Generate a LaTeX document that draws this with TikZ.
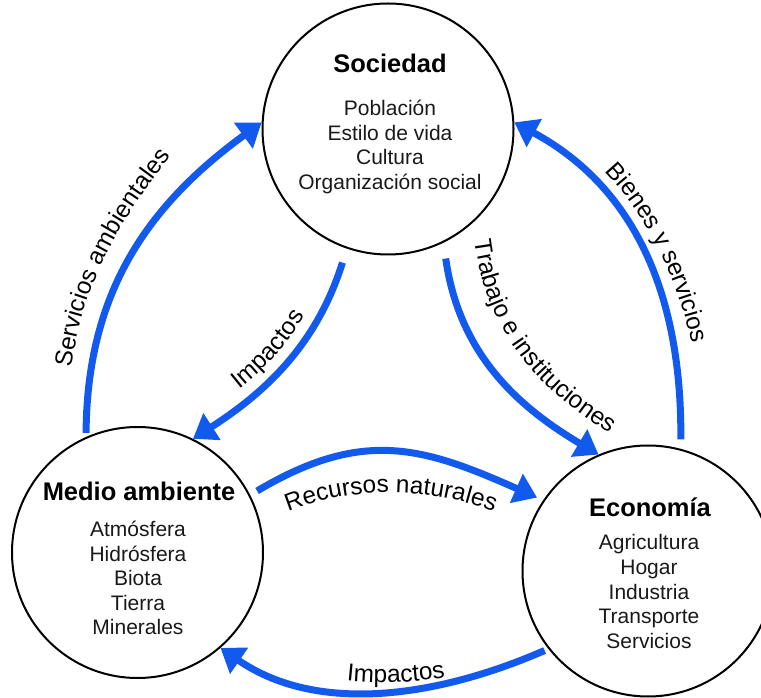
\documentclass[tikz,border=0pt]{standalone}
\usepackage{fontspec}
\setmainfont{Liberation Sans}
\usetikzlibrary{arrows.meta,decorations.text}
\definecolor{arrowblue}{RGB}{18,90,238}
\newcommand\lblfont{\fontsize{18.3}{21}\selectfont}
\begin{document}
\begin{tikzpicture}[x=0.75pt,y=-0.75pt,
  circ/.style={circle,draw=black,line width=1.5pt,minimum size=188.25pt,inner sep=0pt},
  ttl/.style={font=\bfseries\fontsize{19.1}{22}\selectfont},
  lst/.style={align=center,font=\fontsize{15.75}{18.4}\selectfont,text=black!90},
  flow/.style={draw=arrowblue,line width=5.25pt,-{Triangle[length=17pt,width=23pt]}}
]
\useasboundingbox (0,0) rectangle (761,698);
% circles
\node[circ] (soc) at (388,129) {};
\node[circ] (med) at (137.5,552.5) {};
\node[circ] (eco) at (648,571) {};
% texts
\node[ttl] (soct) at (390,63) {Sociedad};
\node[lst] (socl) at (390,147) {Población\\Estilo de vida\\Cultura\\Organización social};
\node[ttl] (medt) at (139,491) {Medio ambiente};
\node[lst] (medl) at (138,578) {Atmósfera\\Hidrósfera\\Biota\\Tierra\\Minerales};
\node[ttl] (ecot) at (650,507) {Economía};
\node[lst] (ecol) at (649,591.5) {Agricultura\\Hogar\\Industria\\Transporte\\Servicios};
% arrows
\draw[flow,shorten <=3pt] (med.114) .. controls (87,293) and (147,206) .. (soc.177);
\draw[flow,shorten <=11pt] (soc.251) .. controls (317,344) and (266,392) .. (med.64);
\draw[flow,shorten <=12pt] (soc.296) .. controls (459,352) and (515,405) .. (eco.113);
\draw[flow,shorten <=7pt] (eco.75) .. controls (682,300) and (638,189) .. (soc.3);
\draw[flow,shorten <=6pt,shorten >=5pt] (med.27) .. controls (363,428) and (423,447) .. (eco.146);
\draw[flow,shorten <=3pt] (eco.218) .. controls (438,697) and (318,715) .. (med.311);
% labels
\path[decorate,decoration={text along path,text align=center,text={|\lblfont|Servicios ambientales}}]
  (69,392) .. controls (78,283) and (120,220) .. (186,137);
\path[decorate,decoration={text along path,text align=center,text={|\lblfont|Impactos}}]
  (188,425) .. controls (259,380) and (304,340) .. (329,258);
\path[decorate,decoration={text along path,text align=center,text={|\lblfont|Trabajo e instituciones}}]
  (473,222) .. controls (480,327) and (534,390) .. (626,443);
\path[decorate,decoration={text along path,text align=center,text={|\lblfont|Bienes y servicios}}]
  (524,110) .. controls (647,176) and (702,305) .. (702,445);
\path[decorate,decoration={text along path,text align=center,text={|\lblfont|Recursos naturales}}]
  (262,524) .. controls (340,482) and (440,482) .. (520,524);
\path[decorate,decoration={text along path,text align=center,text={|\lblfont|Impactos}}]
  (250,654) .. controls (330,694) and (450,694) .. (540,644);
\end{tikzpicture}
\end{document}
